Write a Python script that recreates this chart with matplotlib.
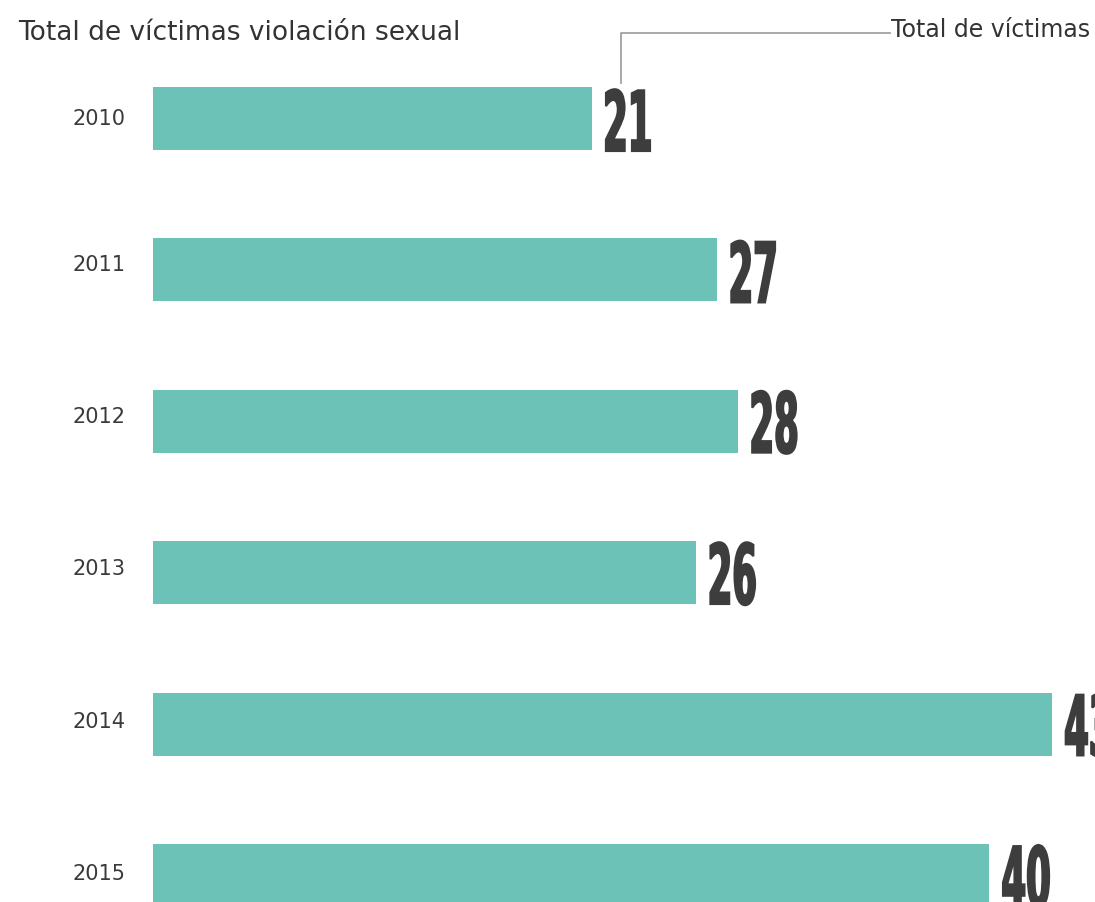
import numpy as np
import matplotlib
matplotlib.use("Agg")
import matplotlib.pyplot as plt
from matplotlib.textpath import TextPath
from matplotlib.patches import PathPatch
from matplotlib.font_manager import FontProperties
from matplotlib.transforms import Affine2D, IdentityTransform
from matplotlib.lines import Line2D

years = ["2010", "2011", "2012", "2013", "2014", "2015"]
victimas = [21, 27, 28, 26, 43, 40]

bar_color = "#6cc2b6"
label_color = "#3d3d3d"
text_color = "#333333"

W, H = 1095, 902
fig = plt.figure(figsize=(W / 100, H / 100), dpi=100)
ax = fig.add_axes([153 / W, 0, (W - 153) / W, 1])

pos = np.arange(len(years))
bar_h = 0.416
ax.barh(pos, victimas, height=bar_h, color=bar_color, linewidth=0)
ax.set_xlim(0, (W - 153) / 20.9)
ax.set_ylim(5.175, -0.783)
ax.axis("off")

# year labels (slightly above bar centre, as in the original)
nudge = [0, 5, 4, 4, 2, 2]
for i, y in enumerate(years):
    _, yc = ax.transData.transform((0, i))
    fig.text(126 / W, (yc + nudge[i]) / H, y, ha="right", va="center",
             fontsize=15, color="#3a3a3a", family="DejaVu Sans")

# value labels: condensed bold numbers built from text paths
fp = FontProperties(family="DejaVu Sans", weight="bold")
ref = TextPath((0, 0), "00", size=100, prop=fp).get_extents()
sy = 63 / ref.height
sx = 46 / ref.width
for i, v in enumerate(victimas):
    tp = TextPath((0, 0), str(v), size=100, prop=fp)
    ext = tp.get_extents()
    x0, y0 = ax.transData.transform((v, i + bar_h / 2))
    tr = Affine2D().translate(-ext.x0, -ext.y0).scale(sx, sy).translate(x0 + 14, y0 - 1)
    ax.add_patch(PathPatch(tr.transform_path(tp), transform=IdentityTransform(),
                           facecolor=label_color, edgecolor=label_color, lw=1.5,
                           clip_on=False))

# title
fig.text(18 / W, 1 - 33 / H, "Total de víctimas violación sexual", ha="left", va="center",
         fontsize=19, color=text_color, family="DejaVu Sans")

# annotation
fig.add_artist(Line2D([621 / W, 621 / W, 890 / W], [1 - 83 / H, 1 - 33 / H, 1 - 33 / H],
                      color="#999999", lw=1.2))
fig.text(891 / W, 1 - 30 / H, "Total de víctimas", ha="left", va="center",
         fontsize=17, color=text_color, family="DejaVu Sans")

fig.savefig("out.png", dpi=100)
